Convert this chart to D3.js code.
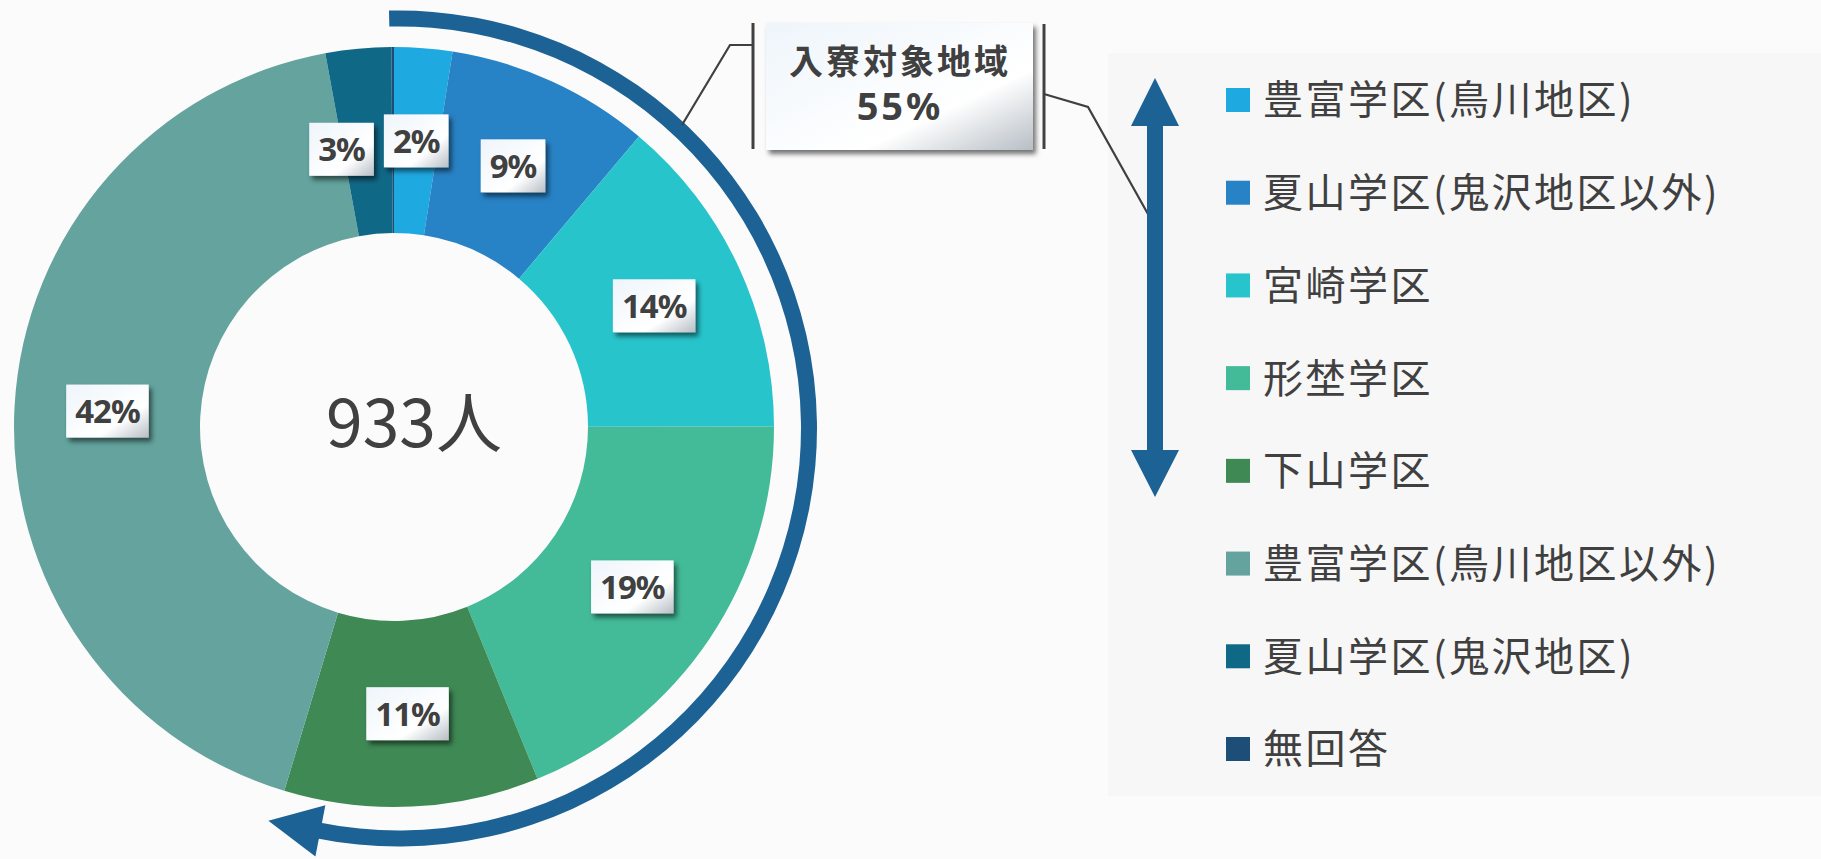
<!DOCTYPE html>
<html>
<head>
<meta charset="utf-8">
<script src="https://cdn.jsdelivr.net/npm/d3@7"></script>
<style>
  html, body { margin: 0; padding: 0; background: #fbfbfb; }
  svg { display: block; }
</style>
</head>
<body>
<div id="chart"></div>
<script>
// data (respondents, total 933)
const categories = ["豊富学区(鳥川地区)", "夏山学区(鬼沢地区以外)", "宮崎学区", "形埜学区", "下山学区", "豊富学区(鳥川地区以外)", "夏山学区(鬼沢地区)", "無回答"];
const counts = [23, 81, 129, 176, 101, 396, 26, 1];
const colors = ["#1fa9e1", "#2882c6", "#28c4cc", "#43ba98", "#3f8955", "#64a39e", "#106887", "#1c4e78"];
const targetCount = 5; // first five areas = 入寮対象地域
const calloutTitle = "入寮対象地域";
const unitLabel = "人";

const width = 1821, height = 859;
const cx = 394, cy = 427;
const rOuter = 380, rInner = 194;
const arrowBlue = "#1d6295";
const ink = "#404040";
const cjk = "'Noto Sans CJK JP', 'Noto Sans CJK SC', sans-serif";

const svg = d3.select("#chart").append("svg")
  .attr("width", width)
  .attr("height", height);

const defs = svg.append("defs");
const shadow = defs.append("filter").attr("id", "shadow")
  .attr("x", "-20%").attr("y", "-20%").attr("width", "150%").attr("height", "160%");
shadow.append("feDropShadow")
  .attr("dx", 3).attr("dy", 4).attr("stdDeviation", 2.5)
  .attr("flood-color", "#000").attr("flood-opacity", 0.55);

const grad = defs.append("linearGradient").attr("id", "boxgrad")
  .attr("x1", 0).attr("y1", 0).attr("x2", 1).attr("y2", 1);
grad.append("stop").attr("offset", 0).attr("stop-color", "#eef5fb");
grad.append("stop").attr("offset", 0.68).attr("stop-color", "#ffffff");
grad.append("stop").attr("offset", 1).attr("stop-color", "#b7bec5");

// legend panel background
svg.append("rect")
  .attr("x", 1108).attr("y", 53)
  .attr("width", width - 1108).attr("height", 743)
  .attr("fill", "#f7f7f7");

// donut
const pie = d3.pie().sort(null).value(d => d);
const arcs = pie(counts);
const arc = d3.arc().innerRadius(rInner).outerRadius(rOuter);

const g = svg.append("g").attr("transform", `translate(${cx},${cy})`);
g.selectAll("path.slice")
  .data(arcs)
  .join("path")
  .attr("class", "slice")
  .attr("d", arc)
  .attr("fill", (d, i) => colors[i]);

// total in the hole
const total = d3.sum(counts);
g.append("text")
  .attr("x", 20).attr("y", 20)
  .attr("text-anchor", "middle")
  .attr("font-family", cjk)
  .attr("font-size", 66)
  .attr("fill", ink)
  .text(total + unitLabel);

// percentage labels
const labelArc = d3.arc().innerRadius((rInner + rOuter) / 2).outerRadius((rInner + rOuter) / 2);
const labelData = arcs
  .map((d, i) => ({ i, pct: Math.round(d.value / total * 100), c: labelArc.centroid(d) }))
  .filter(d => d.pct > 0);

const labelG = g.append("g");
const placed = [];
labelData.forEach(d => {
  const lg = labelG.append("g");
  const rect = lg.append("rect").attr("fill", "url(#boxgrad)").attr("filter", "url(#shadow)");
  const t = lg.append("text")
    .attr("text-anchor", "middle")
    .attr("dy", "0.36em")
    .attr("font-family", "'Noto Sans', 'DejaVu Sans', sans-serif")
    .attr("font-weight", 700)
    .attr("font-size", 33)
    .attr("letter-spacing", -1)
    .attr("fill", ink)
    .text(d.pct + "%");
  const w = t.node().getComputedTextLength() + 18, h = 53;
  let x = d.c[0], y = d.c[1];
  // push away from an already placed label if they collide
  placed.forEach(p => {
    if (Math.abs(x - p.x) < (w + p.w) / 2 + 10 && Math.abs(y - p.y) < (h + p.h) / 2) {
      x = x < p.x ? p.x - (w + p.w) / 2 - 10 : p.x + (w + p.w) / 2 + 10;
      y += 8;
    }
  });
  placed.push({ x, y, w, h });
  rect.attr("x", x - w / 2).attr("y", y - h / 2).attr("width", w).attr("height", h);
  t.attr("x", x).attr("y", y);
});

// curved arrow round the target areas (stops a little short of their end)
const ac = { x: cx + 5, y: cy + 1.5 };
const arrowR = 410, arrowW = 16;
const endAngle = d3.sum(counts.slice(0, targetCount)) / total * 2 * Math.PI - 0.1;
const bandArc = d3.arc()
  .innerRadius(arrowR - arrowW / 2)
  .outerRadius(arrowR + arrowW / 2)
  .startAngle(-0.024)
  .endAngle(endAngle + 0.01);
const ag = svg.append("g").attr("transform", `translate(${ac.x},${ac.y})`);
ag.append("path").attr("d", bandArc()).attr("fill", arrowBlue);

const s = Math.sin(endAngle), c = Math.cos(endAngle);
const base = [arrowR * s, -arrowR * c];
const radial = [s, -c], tangent = [c, s];
const headHalf = 26, headLen = 53;
const head = [
  [base[0] + radial[0] * headHalf, base[1] + radial[1] * headHalf],
  [base[0] + tangent[0] * headLen, base[1] + tangent[1] * headLen],
  [base[0] - radial[0] * headHalf, base[1] - radial[1] * headHalf]
];
ag.append("path").attr("d", d3.line()(head) + "Z").attr("fill", arrowBlue);

// callout leader lines
const leader = d3.line();
svg.append("path")
  .attr("d", leader([[753, 45], [730, 45], [682, 125]]))
  .attr("fill", "none").attr("stroke", ink).attr("stroke-width", 2.2);
svg.append("path")
  .attr("d", leader([[1044, 94], [1088, 107], [1153, 223]]))
  .attr("fill", "none").attr("stroke", ink).attr("stroke-width", 2.2);

// callout box
svg.append("rect")
  .attr("x", 766).attr("y", 23).attr("width", 267).attr("height", 127)
  .attr("fill", "url(#boxgrad)").attr("filter", "url(#shadow)");
svg.append("line").attr("x1", 753).attr("x2", 753).attr("y1", 23).attr("y2", 149)
  .attr("stroke", ink).attr("stroke-width", 3);
svg.append("line").attr("x1", 1044).attr("x2", 1044).attr("y1", 24).attr("y2", 149)
  .attr("stroke", ink).attr("stroke-width", 3);

const targetPct = Math.round(d3.sum(counts.slice(0, targetCount)) / total * 100);
svg.append("text")
  .attr("x", 900).attr("y", 74)
  .attr("text-anchor", "middle")
  .attr("font-family", cjk)
  .attr("font-weight", 700)
  .attr("font-size", 34)
  .attr("letter-spacing", 3)
  .attr("fill", ink)
  .text(calloutTitle);
svg.append("text")
  .attr("x", 900).attr("y", 120)
  .attr("text-anchor", "middle")
  .attr("font-family", "'Noto Sans', sans-serif")
  .attr("font-weight", 700)
  .attr("font-size", 38)
  .attr("letter-spacing", 3)
  .attr("fill", ink)
  .text(targetPct + "%");

// double arrow beside the legend
const dx = 1155, shaft = 8, hw = 24;
const dbl = [
  [dx, 78], [dx + hw, 126], [dx + shaft, 126], [dx + shaft, 450], [dx + hw, 450],
  [dx, 497], [dx - hw, 450], [dx - shaft, 450], [dx - shaft, 126], [dx - hw, 126]
];
svg.append("path").attr("d", d3.line()(dbl) + "Z").attr("fill", arrowBlue);

// legend
const ly = d3.scalePoint().domain(categories).range([100, 749]);
const legend = svg.append("g").selectAll("g")
  .data(categories)
  .join("g")
  .attr("transform", d => `translate(1226,${ly(d)})`);
legend.append("rect")
  .attr("x", 0).attr("y", -12)
  .attr("width", 24).attr("height", 24)
  .attr("fill", (d, i) => colors[i]);
legend.append("text")
  .attr("x", 37).attr("y", 0)
  .attr("dy", "0.36em")
  .attr("font-family", cjk)
  .attr("font-size", 40)
  .attr("letter-spacing", 2.5)
  .attr("fill", ink)
  .text(d => d);
</script>
</body>
</html>
